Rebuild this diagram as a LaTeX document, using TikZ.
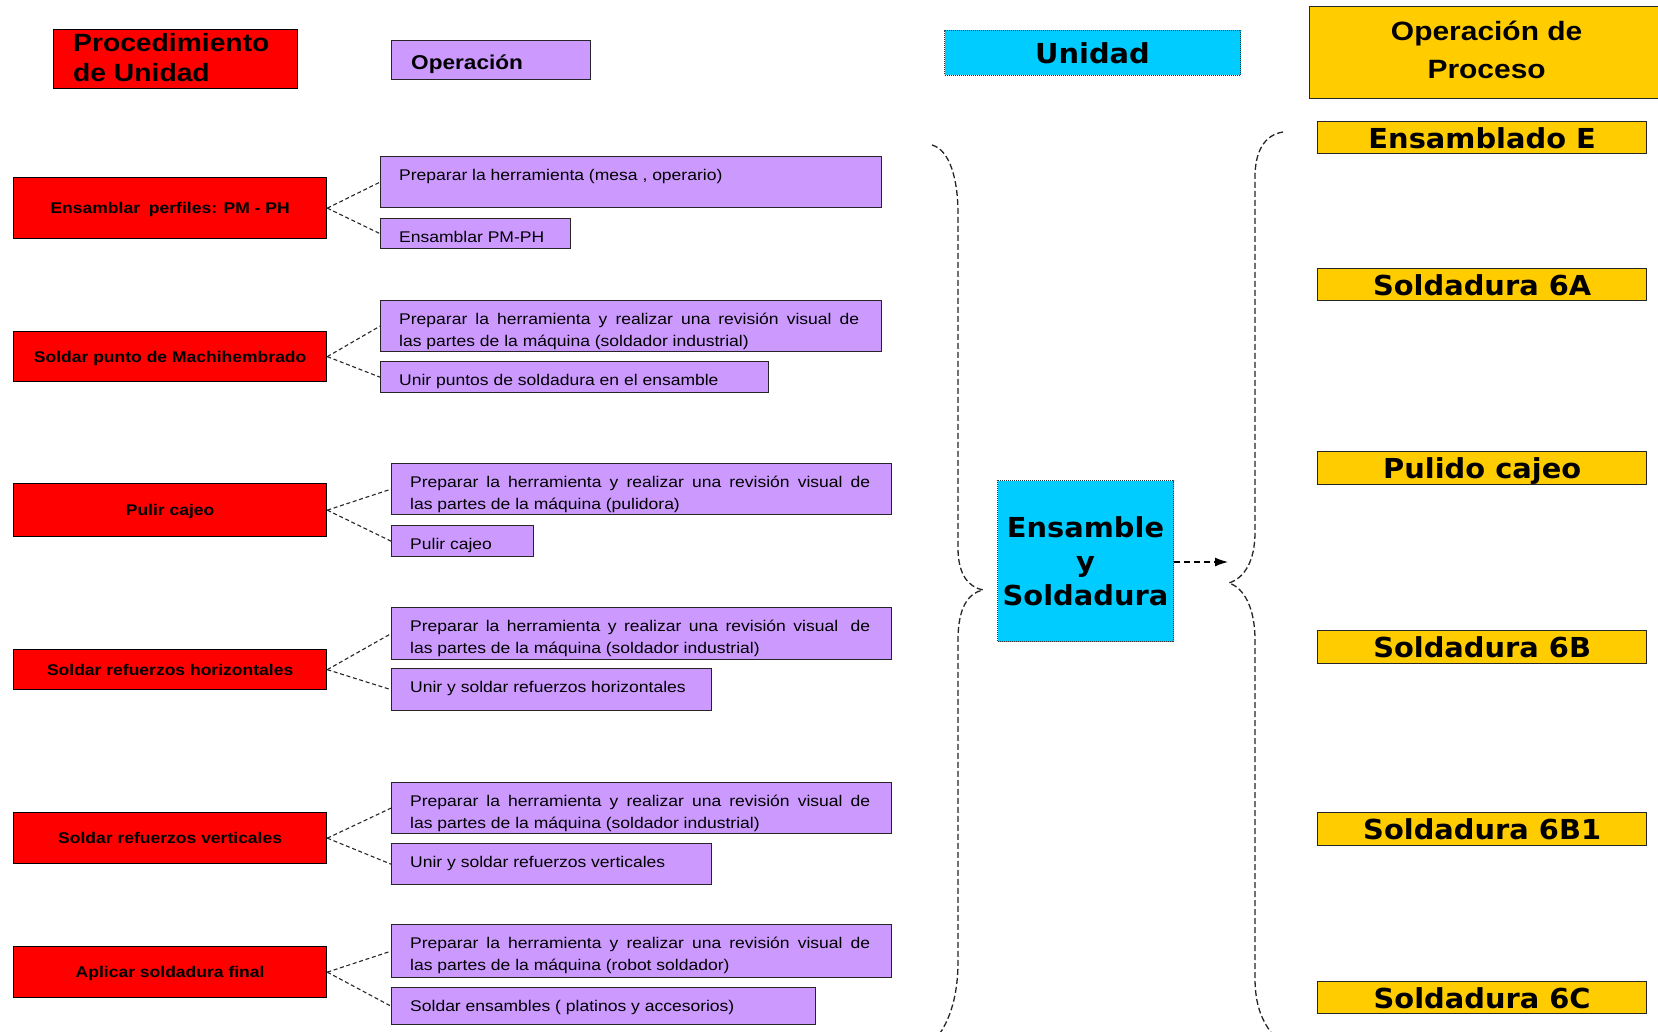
\documentclass[tikz,border=0pt]{standalone}
\usepackage{fontspec}
\setmainfont{Liberation Sans}
\newfontfamily\smallfont[FakeStretch=1.13]{Liberation Sans}
\newfontfamily\headfont[FakeStretch=1.13]{Liberation Sans}
\newfontfamily\heavyfont[FakeStretch=1.05]{DejaVu Sans}
\usetikzlibrary{calc,arrows.meta}
\definecolor{unitred}{HTML}{FF0000}
\definecolor{steplilac}{HTML}{CC99FF}
\definecolor{unitcyan}{HTML}{00CCFF}
\definecolor{procyellow}{HTML}{FFCC00}
% first line of a two-line step: spread over the full text width
\newcommand\fullline[1]{\makebox[460pt][s]{#1}}

\begin{document}
\begin{tikzpicture}[x=1pt,y=-1pt,
  boxbase/.style={anchor=north west, inner sep=0pt, line width=1.3pt},
  unitbox/.style={boxbase, draw=black, fill=unitred, text height=11.5pt, text depth=0pt,
    font=\smallfont\bfseries\fontsize{15.5pt}{18pt}\selectfont},
  opbox/.style={boxbase, draw=black!85, fill=steplilac},
  optext/.style={anchor=north west, inner sep=0pt, align=left,
    font=\smallfont\fontsize{15.5pt}{21.5pt}\selectfont},
  stagebox/.style={boxbase, draw=black!85, fill=procyellow, text height=21pt, text depth=0pt,
    font=\heavyfont\bfseries\fontsize{27.5pt}{34pt}\selectfont},
  groupbox/.style={boxbase, draw=black!80, fill=unitcyan, line width=1pt, dash pattern=on 1pt off 1pt,
    font=\heavyfont\bfseries\fontsize{27.5pt}{34pt}\selectfont},
  link/.style={draw=black!85, line width=1.1pt, dash pattern=on 4pt off 2.7pt},
  brace/.style={draw=black!85, line width=1.3pt, dash pattern=on 6pt off 3pt},
  flow/.style={draw=black, line width=1.3pt, dash pattern=on 6pt off 4pt, -{Latex[length=13pt,width=9pt]}},
]
\useasboundingbox (0,0) rectangle (1658,1032);
\fill[white] (0,0) rectangle (1658,1032);

% ---------- column headers ----------
\node[boxbase, draw=black, fill=unitred, minimum width=244pt, minimum height=59pt] (hunit) at (53,29) {};
\node[anchor=north west, inner sep=0pt, align=left, font=\headfont\bfseries\fontsize{25pt}{30.7pt}\selectfont]
  (hunittext) at ($(hunit.north west)+(20,0.5)$) {\strut Procedimiento\\\strut de Unidad};

\node[opbox, minimum width=199pt, minimum height=39pt] (hop) at (391,40) {};
\node[anchor=base west, inner sep=0pt, font=\headfont\bfseries\fontsize{20pt}{24pt}\selectfont]
  (hoptext) at ($(hop.north west)+(20,30)$) {Operación};

\node[groupbox, minimum width=296pt, minimum height=45pt, text height=21pt, text depth=0pt]
  (hgroup) at (944,30) {Unidad};

\node[boxbase, draw=black!85, fill=procyellow, minimum width=354pt, minimum height=92pt] (hstage) at (1309,6) {};
\node[anchor=north, inner sep=0pt, align=center, font=\headfont\bfseries\fontsize{26.5pt}{38pt}\selectfont]
  (hstagetext) at ($(hstage.north)+(0,7.4)$) {\strut Operación de\\\strut Proceso};

% ---------- unit procedures ----------
\node[unitbox, minimum width=313pt, minimum height=61pt] (r1) at (13,177) {Ensamblar\hspace{4pt} perfiles: PM - PH};
\node[unitbox, minimum width=313pt, minimum height=50pt] (r2) at (13,331) {Soldar punto de Machihembrado};
\node[unitbox, minimum width=313pt, minimum height=53pt] (r3) at (13,483) {Pulir cajeo};
\node[unitbox, minimum width=313pt, minimum height=40pt] (r4) at (13,649) {Soldar refuerzos horizontales};
\node[unitbox, minimum width=313pt, minimum height=51pt] (r5) at (13,812) {Soldar refuerzos verticales};
\node[unitbox, minimum width=313pt, minimum height=51pt] (r6) at (13,946) {Aplicar soldadura final};

% ---------- operations ----------
\node[opbox, minimum width=501pt, minimum height=51pt] (p1a) at (380,156) {};
\node[opbox, minimum width=190pt, minimum height=30pt] (p1b) at (380,218) {};
\node[opbox, minimum width=501pt, minimum height=51pt] (p2a) at (380,300) {};
\node[opbox, minimum width=388pt, minimum height=31pt] (p2b) at (380,361) {};
\node[opbox, minimum width=500pt, minimum height=51pt] (p3a) at (391,463) {};
\node[opbox, minimum width=142pt, minimum height=31pt] (p3b) at (391,525) {};
\node[opbox, minimum width=500pt, minimum height=52pt] (p4a) at (391,607) {};
\node[opbox, minimum width=320pt, minimum height=42pt] (p4b) at (391,668) {};
\node[opbox, minimum width=500pt, minimum height=51pt] (p5a) at (391,782) {};
\node[opbox, minimum width=320pt, minimum height=41pt] (p5b) at (391,843) {};
\node[opbox, minimum width=500pt, minimum height=53pt] (p6a) at (391,924) {};
\node[opbox, minimum width=424pt, minimum height=37pt] (p6b) at (391,987) {};

\node[optext] (t1a) at ($(p1a.north west)+(19,9.45)$) {\strut Preparar la herramienta (mesa , operario)};
\node[optext] (t1b) at ($(p1b.north west)+(19,9.45)$) {\strut Ensamblar PM-PH};
\node[optext] (t2a) at ($(p2a.north west)+(19,9.45)$)
  {\strut\fullline{Preparar la herramienta y realizar una revisión visual de}\\\strut las partes de la máquina (soldador industrial)};
\node[optext] (t2b) at ($(p2b.north west)+(19,9.45)$) {\strut Unir puntos de soldadura en el ensamble};
\node[optext] (t3a) at ($(p3a.north west)+(19,9.45)$)
  {\strut\fullline{Preparar la herramienta y realizar una revisión visual de}\\\strut las partes de la máquina (pulidora)};
\node[optext] (t3b) at ($(p3b.north west)+(19,9.45)$) {\strut Pulir cajeo};
\node[optext] (t4a) at ($(p4a.north west)+(19,9.45)$)
  {\strut\fullline{Preparar la herramienta y realizar una revisión visual\hspace{5pt} de}\\\strut las partes de la máquina (soldador industrial)};
\node[optext] (t4b) at ($(p4b.north west)+(19,9.45)$) {\strut Unir y soldar refuerzos horizontales};
\node[optext] (t5a) at ($(p5a.north west)+(19,9.45)$)
  {\strut\fullline{Preparar la herramienta y realizar una revisión visual de}\\\strut las partes de la máquina (soldador industrial)};
\node[optext] (t5b) at ($(p5b.north west)+(19,9.45)$) {\strut Unir y soldar refuerzos verticales};
\node[optext] (t6a) at ($(p6a.north west)+(19,9.45)$)
  {\strut\fullline{Preparar la herramienta y realizar una revisión visual de}\\\strut las partes de la máquina (robot soldador)};
\node[optext] (t6b) at ($(p6b.north west)+(19,9.45)$) {\strut Soldar ensambles ( platinos y accesorios)};

% ---------- procedure -> operation links ----------
\foreach \i in {1,...,6}{
  \draw[link] (r\i.east) -- (p\i a.west);
  \draw[link] (r\i.east) -- (p\i b.west);
}

% ---------- unit ----------
\node[groupbox, minimum width=176pt, minimum height=161pt, align=center] (group) at (997,480) {Ensamble\\y\\Soldadura};

% ---------- braces ----------
\draw[brace] (932,145) .. controls (950,150) and (958,180) .. (958,213)
  -- (958,548) .. controls (958,574) and (968,587) .. (983,590)
  .. controls (968,593) and (958,608) .. (958,640)
  -- (958,962) .. controls (958,995) and (950,1020) .. (938,1036);
\draw[brace] (1283,132) .. controls (1264,135) and (1255,152) .. (1255,177)
  -- (1255,532) .. controls (1255,562) and (1244,578) .. (1229,583)
  .. controls (1244,588) and (1255,608) .. (1255,640)
  -- (1255,978) .. controls (1255,1005) and (1262,1022) .. (1274,1036);

% ---------- unit -> process operations ----------
\coordinate (arrowtip) at (1228,562);
\draw[flow] (group.east |- arrowtip) -- (arrowtip);

% ---------- process operations ----------
\node[stagebox, minimum width=329pt, minimum height=32pt] (s1) at (1317,121) {Ensamblado E};
\node[stagebox, minimum width=329pt, minimum height=32pt] (s2) at (1317,268) {Soldadura 6A};
\node[stagebox, minimum width=329pt, minimum height=33pt] (s3) at (1317,451) {Pulido cajeo};
\node[stagebox, minimum width=329pt, minimum height=33pt] (s4) at (1317,630) {Soldadura 6B};
\node[stagebox, minimum width=329pt, minimum height=33pt] (s5) at (1317,812) {Soldadura 6B1};
\node[stagebox, minimum width=329pt, minimum height=32pt] (s6) at (1317,981) {Soldadura 6C};
\end{tikzpicture}
\end{document}
